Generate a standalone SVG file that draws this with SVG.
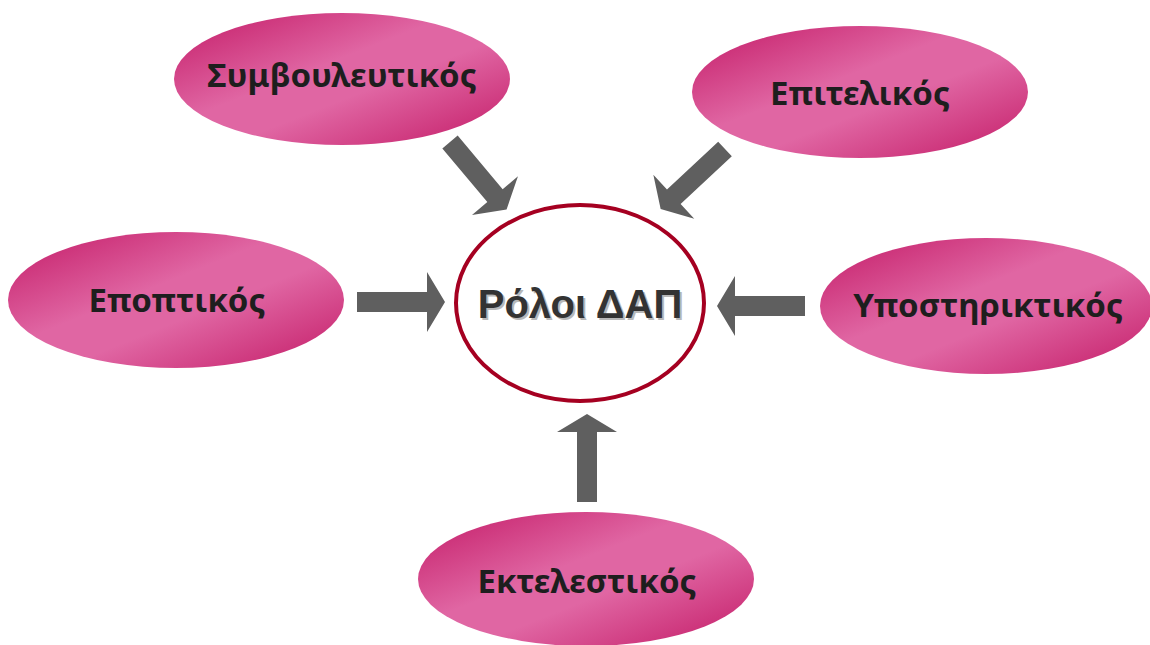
<svg xmlns="http://www.w3.org/2000/svg" width="1150" height="645" viewBox="0 0 1150 645">
<defs>
<linearGradient id="pink" x1="0" y1="0" x2="1" y2="1">
<stop offset="0" stop-color="#c31a66"/>
<stop offset="0.42" stop-color="#e066a3"/>
<stop offset="0.58" stop-color="#e066a3"/>
<stop offset="1" stop-color="#c31a66"/>
</linearGradient>
<polygon id="arr" points="0,-10 70,-10 70,-30 88,0 70,30 70,10 0,10"/>
</defs>
<style>
.node{fill:url(#pink);}
.lbl{font-family:"Noto Sans",sans-serif;font-weight:bold;font-size:33px;fill:#1e1e1e;text-anchor:middle;}
.arrow{fill:#5f5f5f;}
.center{fill:#ffffff;stroke:#a50021;stroke-width:4;}
.ctext{font-family:"Liberation Sans",Arial,sans-serif;font-weight:bold;font-size:40px;text-anchor:middle;}
</style>
<rect width="1150" height="645" fill="#ffffff"/>
<g id="connectors">
<use href="#arr" class="arrow" transform="translate(357,302)"/>
<use href="#arr" class="arrow" transform="translate(805,306) rotate(180)"/>
<use href="#arr" class="arrow" transform="translate(587,502) rotate(-90)"/>
<use href="#arr" class="arrow" transform="translate(450,142) rotate(50)"/>
<use href="#arr" class="arrow" transform="translate(725,149) rotate(137)"/>
</g>
<g id="center">
<ellipse class="center" cx="580" cy="303" rx="124" ry="98"/>
<text class="ctext" x="582" y="320" fill="#b8b8b8">Ρόλοι ΔΑΠ</text>
<text class="ctext" x="580" y="318" fill="#333333">Ρόλοι ΔΑΠ</text>
</g>
<g id="n1">
<ellipse class="node" cx="342" cy="79" rx="168" ry="66"/>
<text class="lbl" x="342" y="87">Συμβουλευτικός</text>
</g>
<g id="n2">
<ellipse class="node" cx="860" cy="92" rx="168" ry="66"/>
<text class="lbl" x="860" y="105">Επιτελικός</text>
</g>
<g id="n3">
<ellipse class="node" cx="176" cy="300" rx="168" ry="68"/>
<text class="lbl" x="177" y="312">Εποπτικός</text>
</g>
<g id="n4">
<ellipse class="node" cx="986" cy="306" rx="166" ry="68"/>
<text class="lbl" x="988" y="317">Υποστηρικτικός</text>
</g>
<g id="n5">
<ellipse class="node" cx="586" cy="579" rx="168" ry="67"/>
<text class="lbl" x="587" y="593">Εκτελεστικός</text>
</g>
</svg>
